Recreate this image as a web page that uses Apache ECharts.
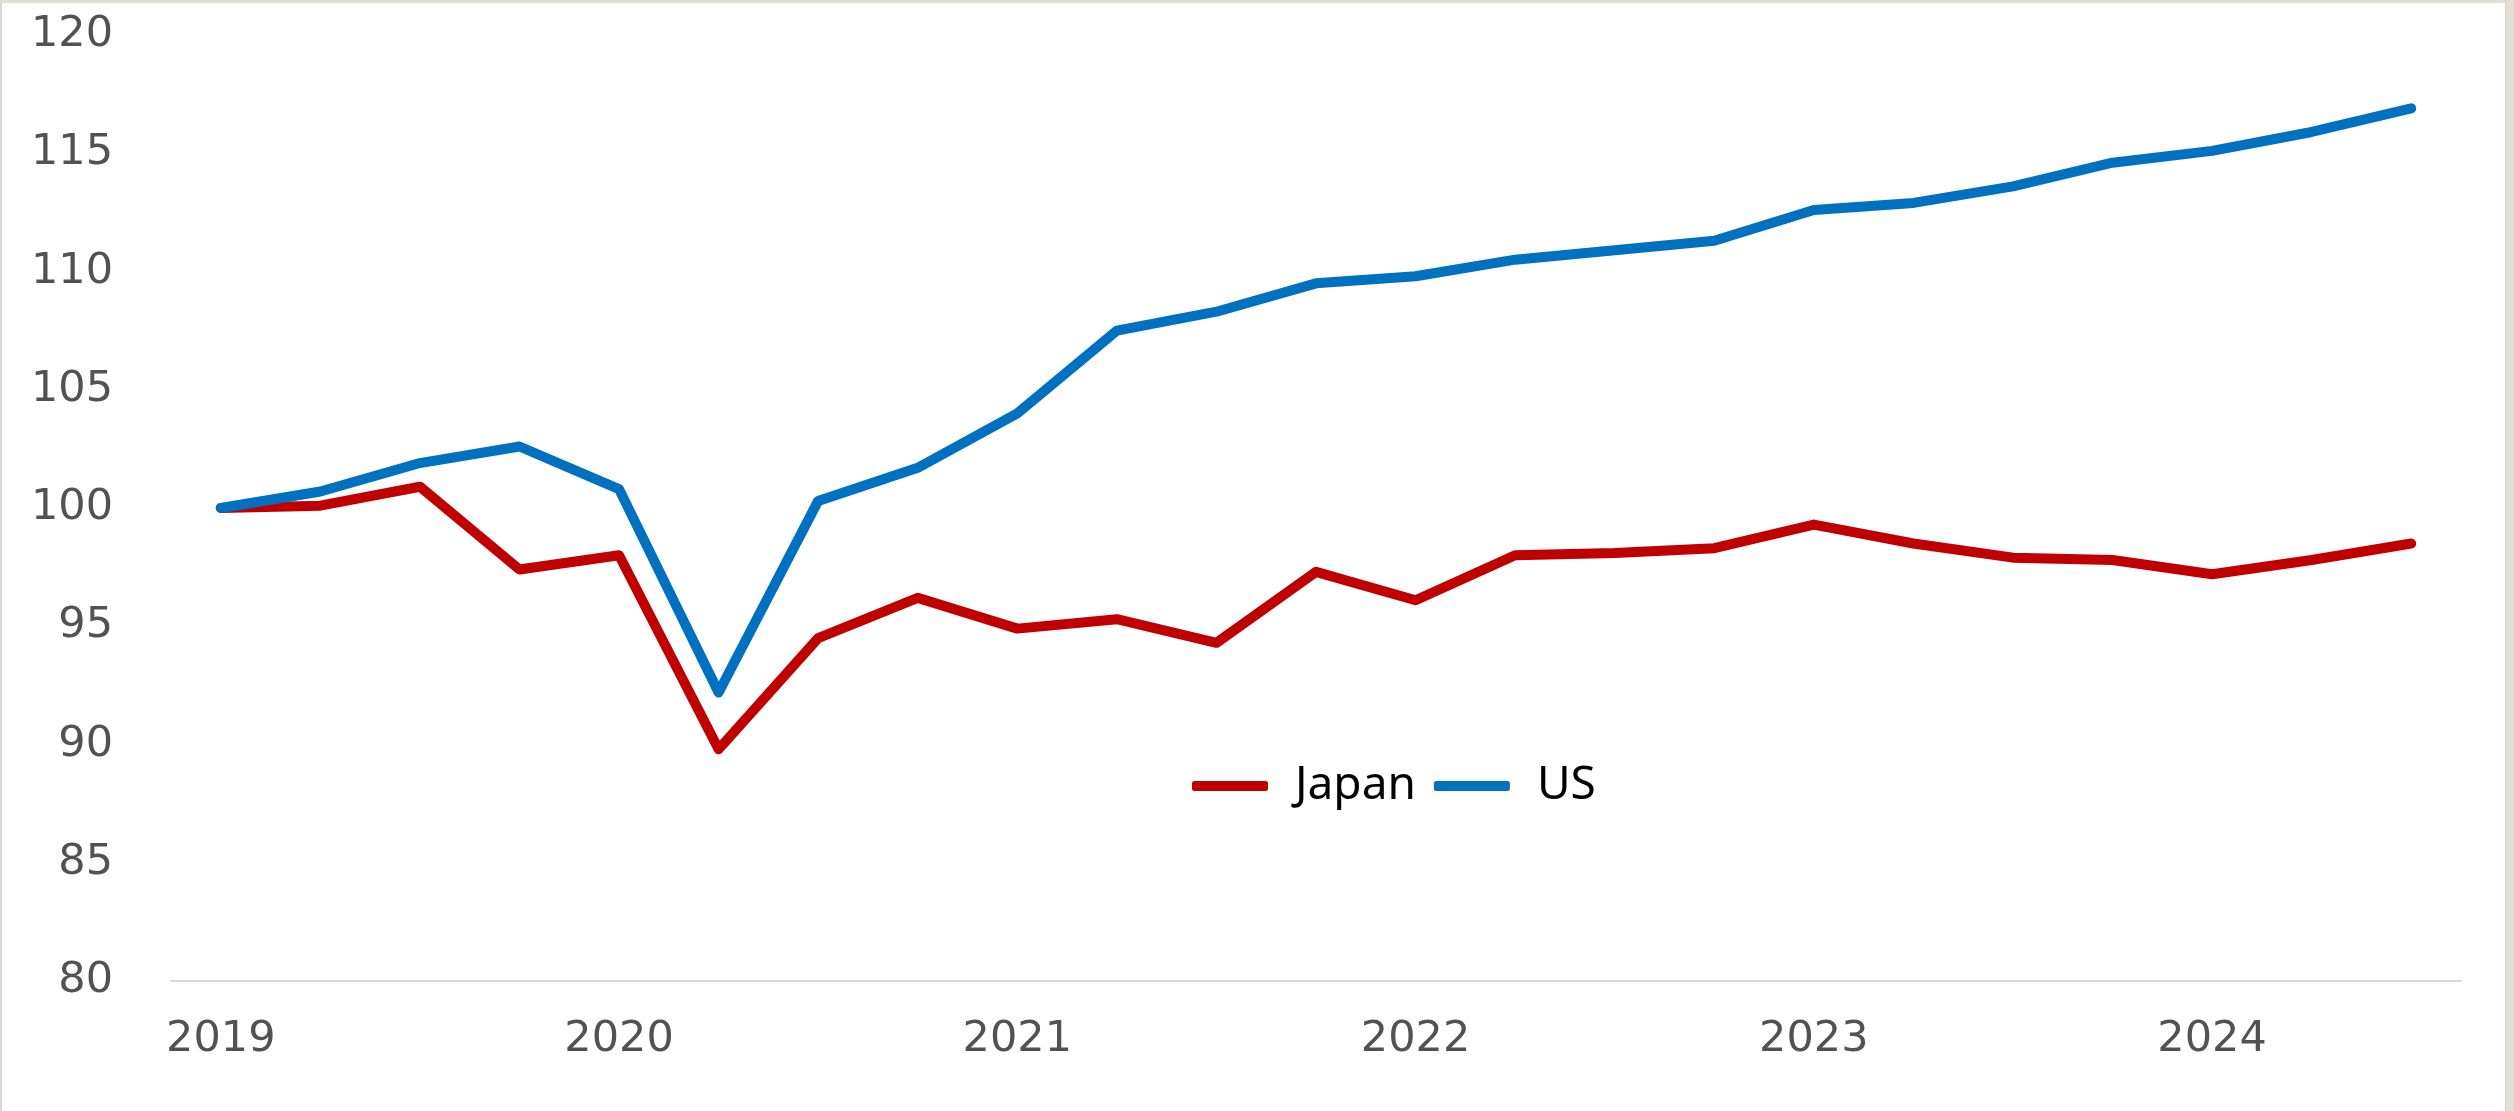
<!DOCTYPE html>
<html>
<head>
<meta charset="utf-8">
<title>Japan vs US</title>
<script src="https://cdn.jsdelivr.net/npm/echarts@6/dist/echarts.min.js"></script>
<style>
  html, body { margin: 0; padding: 0; background: #ffffff; overflow: hidden; }
  #chart { position: absolute; left: 0; top: 0; width: 2514px; height: 1111px; background: #ffffff; }
  .frame { position: absolute; pointer-events: none; }
  #frameTop { left: 0; top: 0; width: 2514px; height: 3px; background: #e3e0d2; }
  #frameRight { left: 2505px; top: 0; width: 9px; height: 1111px; background: #e3e0d2; border-left: 1px solid #d2d2d2; box-sizing: border-box; }
  #frameLeft { left: 0; top: 3px; width: 2px; height: 1108px; background: #d6d6d6; }
</style>
</head>
<body>
<div id="chart"></div>
<div class="frame" id="frameTop"></div>
<div class="frame" id="frameRight"></div>
<div class="frame" id="frameLeft"></div>
<script>
// Quarterly index levels, 2019 Q1 = 100
const quarters = [
  '2019 Q1', '2019 Q2', '2019 Q3', '2019 Q4',
  '2020 Q1', '2020 Q2', '2020 Q3', '2020 Q4',
  '2021 Q1', '2021 Q2', '2021 Q3', '2021 Q4',
  '2022 Q1', '2022 Q2', '2022 Q3', '2022 Q4',
  '2023 Q1', '2023 Q2', '2023 Q3', '2023 Q4',
  '2024 Q1', '2024 Q2', '2024 Q3'
];
const japan = [100.0, 100.1, 100.9, 97.4, 98.0, 89.8, 94.5, 96.2, 94.9, 95.3, 94.3, 97.3,
               96.1, 98.0, 98.1, 98.3, 99.3, 98.5, 97.9, 97.8, 97.2, 97.8, 98.5];
const us = [100.0, 100.7, 101.9, 102.6, 100.8, 92.2, 100.3, 101.7, 104.0, 107.5, 108.3, 109.5,
            109.8, 110.5, 110.9, 111.3, 112.6, 112.9, 113.6, 114.6, 115.1, 115.9, 116.9];
const yTicks = { min: 80, max: 120, step: 5 };

const chart = echarts.init(document.getElementById('chart'), null, { renderer: 'canvas' });

const tickFont = {
  color: '#525252',
  fontFamily: 'DejaVu Sans',
  fontSize: 43
};

function lineSeries(name, values, color) {
  return {
    name: name,
    type: 'line',
    data: values,
    symbol: 'none',
    smooth: false,
    lineStyle: { color: color, width: 10, cap: 'round', join: 'round' },
    itemStyle: { color: color },
    emphasis: { disabled: true },
    animation: false
  };
}

chart.setOption({
  backgroundColor: '#ffffff',
  animation: false,
  grid: { left: 171, right: 53, top: 35, bottom: 130, containLabel: false },
  legend: {
    left: 1187,
    top: 758,
    itemWidth: 76,
    itemHeight: 10,
    itemGap: 18,
    icon: 'roundRect',
    textStyle: {
      color: '#000000',
      fontFamily: 'Noto Sans',
      fontSize: 46,
      padding: [0, 0, 0, 22]
    },
    data: ['Japan', 'US']
  },
  xAxis: {
    type: 'category',
    data: quarters,
    boundaryGap: true,
    axisLine: { show: true, lineStyle: { color: '#d9d9d9', width: 2 } },
    axisTick: { show: false },
    splitLine: { show: false },
    axisLabel: Object.assign({}, tickFont, {
      interval: 3,
      margin: 37,
      formatter: function (v) { return v.slice(0, 4); }
    })
  },
  yAxis: {
    type: 'value',
    min: yTicks.min,
    max: yTicks.max,
    interval: yTicks.step,
    axisLine: { show: false },
    axisTick: { show: false },
    splitLine: { show: false },
    axisLabel: Object.assign({}, tickFont, { margin: 58 })
  },
  series: [
    lineSeries('Japan', japan, '#C00000'),
    lineSeries('US', us, '#0070C0')
  ]
});
</script>
</body>
</html>
